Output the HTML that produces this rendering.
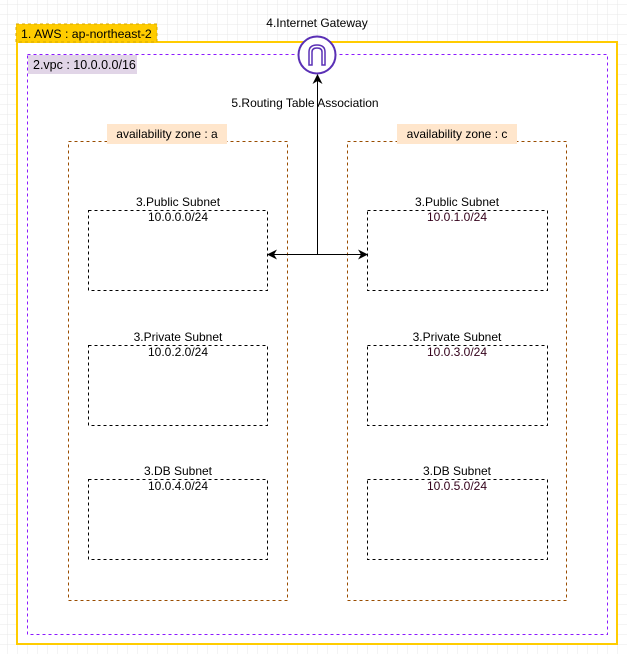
<!DOCTYPE html>
<html><head><meta charset="utf-8"><style>
html,body{margin:0;padding:0;width:627px;height:654px;overflow:hidden;background:#fff;}
svg{display:block;font-family:"Liberation Sans",sans-serif;}
</style></head><body>
<svg width="627" height="654" xmlns="http://www.w3.org/2000/svg">
<defs>
<pattern id="g" width="10" height="10" patternUnits="userSpaceOnUse" x="7" y="4">
<path d="M10 0H0V10" fill="none" stroke="#e9e9e9" stroke-width="1"/>
</pattern>
<marker id="ah" markerWidth="10" markerHeight="10" refX="9" refY="5" orient="auto" markerUnits="userSpaceOnUse">
<path d="M0,0 L10,5 L0,10 L3,5 Z" fill="#000"/>
</marker>
</defs>
<rect width="627" height="654" fill="url(#g)"/>
<rect x="17" y="42" width="600" height="602" fill="#fff" stroke="#ffcc00" stroke-width="2"/>
<rect x="16" y="24" width="141" height="18" fill="#ffcc00" stroke="#d6a800" stroke-dasharray="3,3"/>
<text x="21" y="38" font-size="12.3" fill="#000">1. AWS : ap-northeast-2</text>
<rect x="27.5" y="54.5" width="580" height="580" fill="none" stroke="#8c1aff" stroke-dasharray="3,3"/>
<rect x="28" y="55" width="109" height="19" fill="#e1d5e7"/>
<text x="33" y="69" font-size="12.5" fill="#000">2.vpc : 10.0.0.0/16</text>
<rect x="68.5" y="141.5" width="219" height="459" fill="none" stroke="#994c00" stroke-dasharray="3,3"/>
<rect x="107" y="124" width="120" height="20" fill="#ffe6cc"/>
<text x="167" y="138" font-size="12" text-anchor="middle">availability zone : a</text>
<rect x="347.5" y="141.5" width="219" height="459" fill="none" stroke="#994c00" stroke-dasharray="3,3"/>
<rect x="397" y="124" width="120" height="20" fill="#ffe6cc"/>
<text x="457" y="138" font-size="12" text-anchor="middle">availability zone : c</text>
<g fill="none" stroke="#000" stroke-dasharray="3,3">
<rect x="88.5" y="210.5" width="179" height="80"/>
<rect x="88.5" y="345.5" width="179" height="80"/>
<rect x="88.5" y="479.5" width="179" height="80"/>
<rect x="367.5" y="210.5" width="180" height="80"/>
<rect x="367.5" y="345.5" width="180" height="80"/>
<rect x="367.5" y="479.5" width="180" height="80"/>
</g>
<g font-size="12" text-anchor="middle" fill="#000">
<text x="178" y="206">3.Public Subnet</text><text x="178" y="221">10.0.0.0/24</text>
<text x="178" y="341">3.Private Subnet</text><text x="178" y="356">10.0.2.0/24</text>
<text x="178" y="475">3.DB Subnet</text><text x="178" y="490">10.0.4.0/24</text>
<text x="457" y="206">3.Public Subnet</text><text x="457" y="221" fill="#33001a">10.0.1.0/24</text>
<text x="457" y="341">3.Private Subnet</text><text x="457" y="356" fill="#33001a">10.0.3.0/24</text>
<text x="457" y="475">3.DB Subnet</text><text x="457" y="490" fill="#33001a">10.0.5.0/24</text>
</g>
<text x="317" y="27" font-size="12" text-anchor="middle">4.Internet Gateway</text>
<circle cx="317" cy="55" r="18.5" fill="#fff" stroke="#5a30b5" stroke-width="2"/>
<path d="M309,65 V52 Q309,45 317,45 Q325,45 325,52 V65 H322 V52 Q322,48 317,48 Q312,48 312,52 V65 Z" fill="#fff" stroke="#5a30b5" stroke-width="1.5"/>
<text x="305" y="107" font-size="12" text-anchor="middle">5.Routing Table Association</text>
<line x1="317.5" y1="254" x2="317.5" y2="75" stroke="#000" marker-end="url(#ah)"/>
<line x1="317" y1="254.5" x2="268" y2="254.5" stroke="#000" marker-end="url(#ah)"/>
<line x1="317" y1="254.5" x2="367" y2="254.5" stroke="#000" marker-end="url(#ah)"/>
</svg>
</body></html>
